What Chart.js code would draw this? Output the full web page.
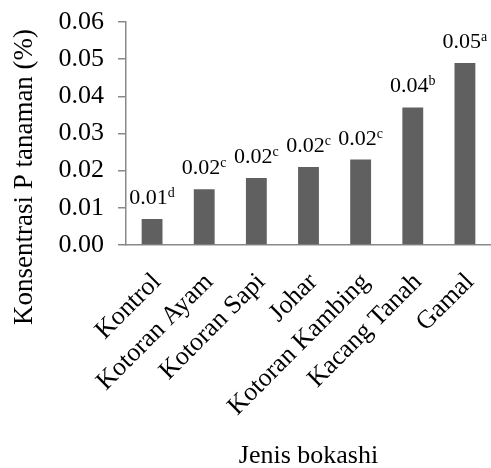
<!DOCTYPE html>
<html>
<head>
<meta charset="utf-8">
<script src="https://cdn.jsdelivr.net/npm/chart.js@4.4.0/dist/chart.umd.min.js"></script>
<style>
    html, body { margin: 0; padding: 0; background: #fff; }
    #wrap { width: 491px; height: 468px; position: relative; }
</style>
</head>
<body>
<div id="wrap"><canvas id="chart"></canvas></div>
<script>
// Data
const categories = ['Kontrol', 'Kotoran Ayam', 'Kotoran Sapi', 'Johar', 'Kotoran Kambing', 'Kacang Tanah', 'Gamal'];
const values = [0.007, 0.015, 0.018, 0.021, 0.023, 0.037, 0.049];
const valueLabels = ['0.01', '0.02', '0.02', '0.02', '0.02', '0.04', '0.05'];
const letters = ['d', 'c', 'c', 'c', 'c', 'b', 'a'];

const serif = '"Liberation Serif", "Times New Roman", serif';
const axisGray = '#898989';

// Bar value labels with superscript letters
const barLabels = {
    id: 'barLabels',
    afterDatasetsDraw(chart) {
        const ctx = chart.ctx;
        const bars = chart.getDatasetMeta(0).data;
        ctx.save();
        ctx.fillStyle = '#000';
        ctx.textBaseline = 'alphabetic';
        ctx.textAlign = 'left';
        bars.forEach((bar, i) => {
            ctx.font = '22px ' + serif;
            const mainW = ctx.measureText(valueLabels[i]).width;
            ctx.font = '14px ' + serif;
            const supW = ctx.measureText(letters[i]).width;
            const x0 = bar.x - (mainW + supW) / 2;
            const y0 = bar.y - 15;
            ctx.font = '22px ' + serif;
            ctx.fillText(valueLabels[i], x0, y0);
            ctx.font = '14px ' + serif;
            ctx.fillText(letters[i], x0 + mainW, y0 - 7);
        });
        ctx.restore();
    }
};

// Y axis title (sits lower than the plot centre in the original)
const yTitle = {
    id: 'yTitle',
    afterDraw(chart) {
        const ctx = chart.ctx;
        ctx.save();
        ctx.translate(25, 177);
        ctx.rotate(-Math.PI / 2);
        ctx.font = '27px ' + serif;
        ctx.fillStyle = '#000';
        ctx.textAlign = 'center';
        ctx.textBaseline = 'middle';
        ctx.fillText('Konsentrasi P tanaman (%)', 0, 0);
        ctx.restore();
    }
};

const ctx = document.getElementById('chart').getContext('2d');
const chart = new Chart(ctx, {
    type: 'bar',
    data: {
        labels: categories,
        datasets: [{
            data: values,
            backgroundColor: '#606060',
            borderWidth: 0,
            categoryPercentage: 1,
            barPercentage: 0.4
        }]
    },
    options: {
        responsive: true,
        maintainAspectRatio: false,
        animation: false,
        layout: {
            padding: { top: 22, right: 0, bottom: 0, left: 0 }
        },
        plugins: {
            legend: { display: false },
            tooltip: { enabled: false }
        },
        scales: {
            x: {
                grid: { display: false },
                border: { display: true, color: axisGray, width: 1.5 },
                ticks: {
                    color: '#000',
                    font: { family: serif, size: 26 },
                    minRotation: 45,
                    maxRotation: 45,
                    padding: 14,
                    labelOffset: 5
                },
                title: {
                    display: true,
                    text: 'Jenis bokashi',
                    color: '#000',
                    font: { family: serif, size: 26 },
                    padding: { top: 0, bottom: -4 }
                },
                afterFit(scale) {
                    scale.height = 223;
                    scale.paddingLeft = 0;
                    scale.paddingRight = 0;
                }
            },
            y: {
                min: 0,
                max: 0.06,
                grid: {
                    display: true,
                    drawOnChartArea: false,
                    drawTicks: true,
                    tickLength: 8,
                    color: axisGray,
                    lineWidth: 1.5
                },
                border: { display: true, color: axisGray, width: 1.5 },
                ticks: {
                    stepSize: 0.01,
                    color: '#000',
                    font: { family: serif, size: 26 },
                    padding: 14,
                    callback: function (value) {
                        return value.toFixed(2);
                    }
                },
                afterFit(scale) {
                    scale.width = 126;
                    scale.paddingTop = 0;
                    scale.paddingBottom = 0;
                }
            }
        }
    },
    plugins: [barLabels, yTitle]
});
</script>
</body>
</html>
